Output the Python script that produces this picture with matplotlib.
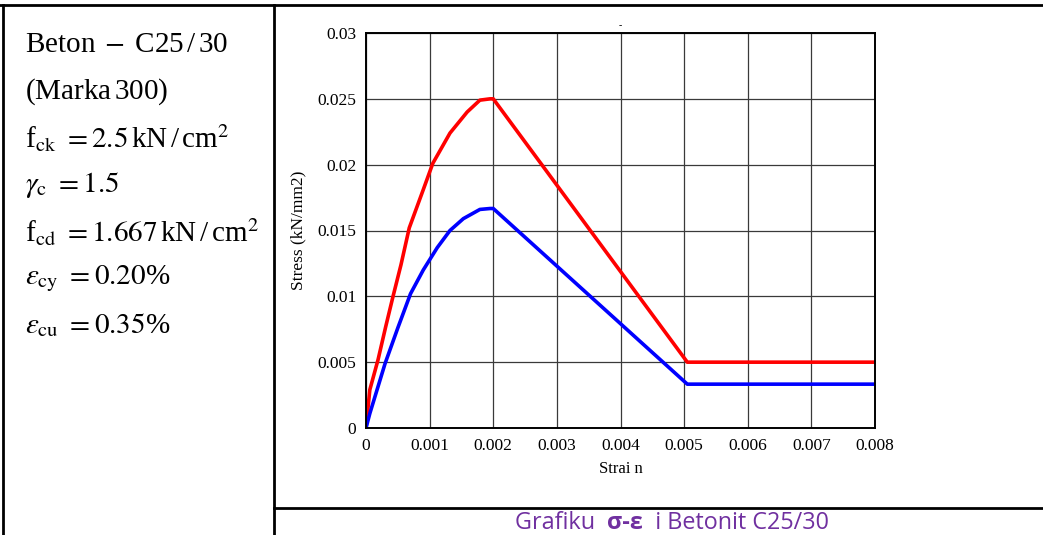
import matplotlib
matplotlib.use('Agg')
import matplotlib.pyplot as plt
from matplotlib.lines import Line2D

plt.rcParams['font.family'] = ['Liberation Serif', 'DejaVu Serif']
plt.rcParams['mathtext.fontset'] = 'stix'

# characteristic curve (fck) and design curve (fcd)
strain_fck = [0, 0.00006, 0.00019, 0.00031, 0.00042, 0.00055, 0.00068, 0.0009, 0.00105,
              0.00132, 0.00159, 0.00179, 0.00195, 0.002, 0.00505, 0.008]
stress_fck = [0, 0.0029, 0.0052, 0.0077, 0.0099, 0.0124, 0.0152, 0.0181, 0.0201,
              0.0224, 0.024, 0.0249, 0.025, 0.025, 0.005, 0.005]

strain_fcd = [0, 0.00006, 0.0003, 0.0005, 0.0007, 0.0009, 0.00112, 0.00132, 0.00153,
              0.00179, 0.00195, 0.002, 0.00505, 0.008]
stress_fcd = [0, 0.0011, 0.0049, 0.0076, 0.0102, 0.012, 0.0137, 0.015, 0.0159,
              0.0166, 0.01667, 0.01667, 0.00333, 0.00333]

xticks = [0, 0.001, 0.002, 0.003, 0.004, 0.005, 0.006, 0.007, 0.008]
xtick_labels = ['0', '0.001', '0.002', '0.003', '0.004', '0.005', '0.006', '0.007', '0.008']
yticks = [0, 0.005, 0.01, 0.015, 0.02, 0.025, 0.03]
ytick_labels = ['0', '0.005', '0.01', '0.015', '0.02', '0.025', '0.03']

info_lines = [
    r'Beton$\;-\;$C25$\,$/$\,$30',
    r'(Marka$\,$300)',
    r'f$_{\rm ck}$ $=2.5\,$kN$\,$/$\,$cm$^2$',
    r'$\gamma_{\rm c}$ $=1.5$',
    r'f$_{\rm cd}$ $=1.667\,$kN$\,$/$\,$cm$^2$',
    r'$\varepsilon_{\rm cy}$ $= 0.20$%',
    r'$\varepsilon_{\rm cu}$ $= 0.35$%',
]
caption_parts = ['Grafiku  ', 'σ-ε', '  i Betonit C25/30']

fig = plt.figure(figsize=(10.43, 5.35), dpi=100)
ax = fig.add_axes([366 / 1043, 1 - 428 / 535, 509 / 1043, 395 / 535])

ax.plot(strain_fck, stress_fck, color='#ff0000', linewidth=2.6, solid_joinstyle='round')
ax.plot(strain_fcd, stress_fcd, color='#0000ff', linewidth=2.6, solid_joinstyle='round')

ax.set_xlim(0, 0.008)
ax.set_ylim(0, 0.03)
ax.set_xticks(xticks)
ax.set_xticklabels(xtick_labels)
ax.set_yticks(yticks)
ax.set_yticklabels(ytick_labels)
ax.tick_params(length=0, labelsize=12.5, pad=7)
ax.grid(True, color='#3a3a3a', linewidth=0.9)
ax.set_axisbelow(True)
for s in ax.spines.values():
    s.set_linewidth(1.4)
ax.set_xlabel('Strai n', fontsize=12, labelpad=5)
ax.set_ylabel('Stress (kN/mm2)', fontsize=12.5, labelpad=8)
ax.text(0.004, 0.0302, '-', ha='center', va='bottom', fontsize=7)

# table frame around the chart
frame = dict(color='black', linewidth=2, transform=fig.transFigure, figure=fig)
fig.lines.append(Line2D([0, 1], [1 - 5 / 535, 1 - 5 / 535], **frame))
fig.lines.append(Line2D([3 / 1043, 3 / 1043], [0, 1 - 5 / 535], **frame))
fig.lines.append(Line2D([274 / 1043, 274 / 1043], [0, 1 - 5 / 535], **frame))
fig.lines.append(Line2D([274 / 1043, 1], [1 - 508 / 535, 1 - 508 / 535], **frame))

# left column: material data
y0 = 45
for i, t in enumerate(info_lines):
    fig.text(25 / 1043, 1 - (y0 + i * 46.7) / 535, t, fontsize=21, va='center', ha='left')

# caption under the chart
purple = '#7030a0'
cap_y = 1 - 523 / 535
cap_font = ['Open Sans', 'DejaVu Sans']
t1 = fig.text(515 / 1043, cap_y, caption_parts[0], fontsize=16.8, color=purple,
              family=cap_font, va='center', ha='left')
fig.canvas.draw()
bb = t1.get_window_extent()
t2 = fig.text(bb.x1 / 1043, cap_y, caption_parts[1], fontsize=16.8, color=purple,
              family=cap_font, weight='bold', va='center', ha='left')
fig.canvas.draw()
bb = t2.get_window_extent()
fig.text(bb.x1 / 1043, cap_y, caption_parts[2], fontsize=16.8, color=purple,
         family=cap_font, va='center', ha='left')

fig.savefig('out.png', dpi=100)
